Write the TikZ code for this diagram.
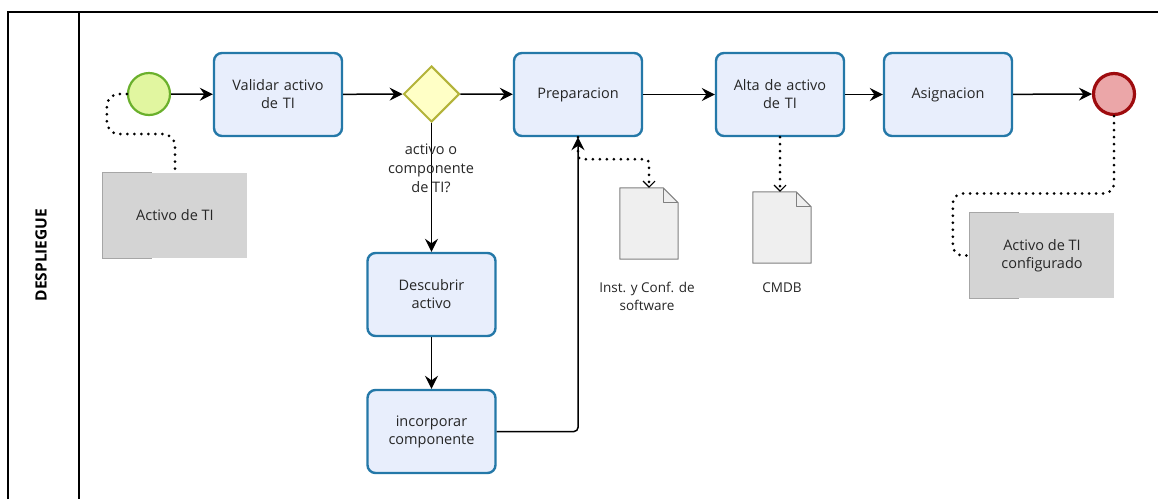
\documentclass[tikz,border=0pt]{standalone}
\usepackage{fontspec}
\setmainfont{Open Sans}
\usetikzlibrary{arrows.meta,shapes.geometric,calc}

\definecolor{taskfill}{HTML}{E8EEFC}
\definecolor{taskline}{HTML}{2478A8}
\definecolor{startfill}{HTML}{E1F6A0}
\definecolor{startline}{HTML}{6AB02C}
\definecolor{endfill}{HTML}{EBA6A8}
\definecolor{endline}{HTML}{9E0B0E}
\definecolor{gwfill}{HTML}{FFFFC6}
\definecolor{gwline}{HTML}{B3B33A}
\definecolor{datafill}{HTML}{D4D4D4}
\definecolor{dataline}{HTML}{A6A6A6}
\definecolor{docfill}{HTML}{EFEFEF}
\definecolor{docline}{HTML}{808080}
\definecolor{txt}{HTML}{262626}

\tikzset{
  every node/.style={font=\fontsize{14.5}{18}\selectfont, text=txt},
  task/.style={draw=taskline, fill=taskfill, line width=2.4pt, rounded corners=8pt,
    minimum width=128pt, minimum height=83pt, align=center, text width=118pt},
  startev/.style={circle, draw=startline, fill=startfill, line width=2.2pt, minimum size=42pt, inner sep=0pt},
  endev/.style={circle, draw=endline, fill=endfill, line width=3.2pt, minimum size=41pt, inner sep=0pt},
  gateway/.style={diamond, draw=gwline, fill=gwfill, line width=2pt, minimum width=56pt, minimum height=56pt, inner sep=0pt},
  dataobj/.style={fill=datafill, minimum width=144pt, minimum height=85pt, align=center, inner sep=0pt},
  docbox/.style={minimum width=58pt, minimum height=71pt, inner sep=0pt},
  flow/.style={line width=1.5pt, -{Stealth[length=13pt,width=13pt,inset=4.5pt]}},
  assoc/.style={line width=3pt, line cap=round, dash pattern=on 0pt off 7pt},
  assocarrow/.style={assoc, -{Straight Barb[length=6pt,width=12pt,line width=1.1pt,sep=0pt]}},
  lane/.style={line width=1.6pt}
}

\begin{document}
\begin{tikzpicture}[x=1pt,y=-1pt]
\useasboundingbox (0,0) rectangle (1158,499);
\fill[white] (0,0) rectangle (1158,499);

% pool and lane frame
\draw[lane] (8,499) -- (8,12) -- (1158,12);
\draw[lane] (79,12) -- (79,499);
\node[rotate=90, font=\bfseries\fontsize{15.5}{18}\selectfont, text=black] (lanelabel) at (41,255) {DESPLIEGUE};

% flow elements
\node[startev] (start) at (149,94) {};
\node[task] (validar) at (278,94.5) {Validar activo\\de TI};
\node[gateway] (gw) at (431.5,94) {};
\node[task] (prep) at (578,94.5) {Preparacion};
\node[task] (alta) at (780,94.5) {Alta de activo\\de TI};
\node[task] (asig) at (948,94.5) {Asignacion};
\node[endev] (end) at (1114,94) {};
\node[task] (desc) at (431.5,294.5) {Descubrir\\activo};
\node[task] (inc) at (431.5,431.5) {incorporar\\componente};

% data objects
\node[dataobj] (dataA) at (175,215.5) {Activo de TI};
\node[dataobj] (dataB) at (1042,255.5) {Activo de TI\\configurado};
\foreach \d in {dataA,dataB}{
  \draw[dataline, line width=1pt] ($(\d.north west)+(49,0)$) -- (\d.north west) -- (\d.south west) -- ++(49,0);
}

% documents
\node[docbox] (doc1) at (649,223.5) {};
\node[docbox] (doc2) at (782,227.5) {};
\foreach \d in {doc1,doc2}{
  \draw[docline, fill=docfill, line width=1pt, line join=round]
    (\d.north west) -- ($(\d.north east)+(-15,0)$) -- ($(\d.north east)+(0,15)$) -- (\d.south east) -- (\d.south west) -- cycle;
  \draw[docline, line width=1pt, line join=round]
    ($(\d.north east)+(-15,0)$) -- ($(\d.north east)+(-15,15)$) -- ($(\d.north east)+(0,15)$);
}
\node[align=center, font=\fontsize{13.5}{18}\selectfont] (doc1label) at (647,296) {Inst. y Conf. de\\software};
\node[font=\fontsize{13.5}{18}\selectfont] (doc2label) at (782,288) {CMDB};

% sequence flows
\draw[flow] (start) -- (validar);
\draw[flow] (validar) -- (gw);
\draw[flow] (gw) -- (prep);
\draw[flow] (prep) -- (alta);
\draw[flow] (alta) -- (asig);
\draw[flow] (asig) -- (end);
\draw[flow] (gw.south) -- (desc.north);
\draw[flow] (desc) -- (inc);
\draw[flow, rounded corners=4pt] (inc.east) -| (prep.south);

\node[align=center, font=\fontsize{14.5}{19}\selectfont] (gwlabel) at (431,168) {activo o\\componente\\de TI?};

% associations
\draw[assoc, rounded corners=12pt] (start.west) -- ++(-20,0) -- ++(0,40) -| (dataA.north);
\draw[assocarrow, rounded corners=4pt] (prep.south) -- ++(0,22) -| (doc1.north);
\draw[assocarrow] (alta.south) -- (alta.south |- doc2.north);
\draw[assoc, rounded corners=10pt] (end.south) |- ($(dataB.west)+(-17,-62)$) |- (dataB.west);
\end{tikzpicture}
\end{document}
